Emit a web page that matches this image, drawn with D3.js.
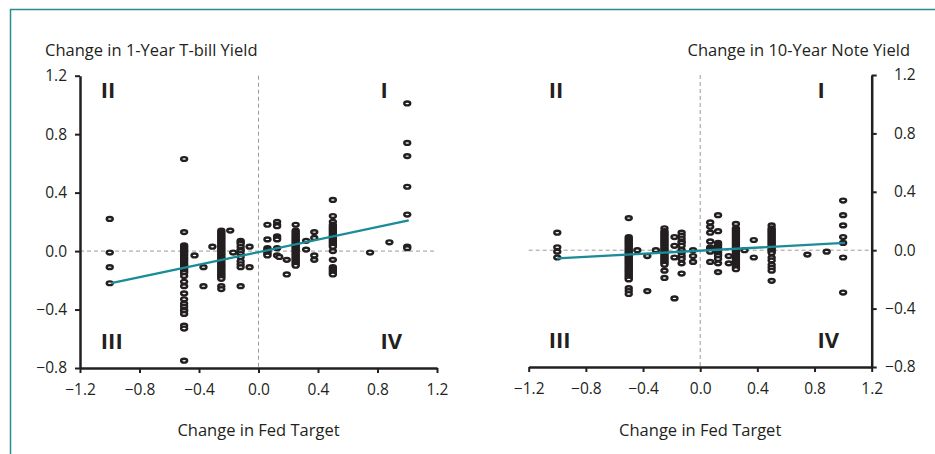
<!DOCTYPE html>
<html>
<head>
<meta charset="utf-8">
<script src="https://cdn.jsdelivr.net/npm/d3@7"></script>
<style>
  body { margin: 0; background: #fff; }
  text { font-family: "Open Sans", "Noto Sans", sans-serif; fill: #231f20; }
</style>
</head>
<body>
<div id="chart"></div>
<script>
// Fed target change -> yield changes, grouped by Fed move: [fedChange, [yieldChanges...]]
var tbillColumns = [
  [-1.0,  [0.22, -0.01, -0.11, -0.22]],
  [-0.5,  [0.63, 0.13, 0.04, 0.03, 0.02, 0.01, 0.0, -0.01, -0.02, -0.03, -0.04, -0.05, -0.06,
           -0.07, -0.08, -0.09, -0.10, -0.11, -0.12, -0.13, -0.14, -0.15, -0.17, -0.21, -0.24,
           -0.29, -0.33, -0.36, -0.38, -0.40, -0.41, -0.43, -0.51, -0.53, -0.75]],
  [-0.43, [-0.03]],
  [-0.37, [-0.11, -0.24]],
  [-0.31, [0.03]],
  [-0.25, [0.14, 0.13, 0.12, 0.11, 0.10, 0.09, 0.08, 0.07, 0.06, 0.05, 0.04, 0.03, 0.02, 0.01,
           0.0, -0.01, -0.02, -0.03, -0.04, -0.05, -0.06, -0.07, -0.08, -0.09, -0.10, -0.11,
           -0.12, -0.13, -0.14, -0.15, -0.16, -0.17, -0.18, -0.19, -0.24, -0.26]],
  [-0.19, [0.14]],
  [-0.17, [-0.01]],
  [-0.12, [0.07, 0.06, 0.05, 0.03, 0.01, 0.0, -0.02, -0.04, -0.07, -0.09, -0.11, -0.24]],
  [-0.06, [0.03, -0.11]],
  [0.06,  [0.18, 0.08, 0.02, 0.01, 0.0, -0.01, -0.02, -0.03]],
  [0.125, [0.20, 0.18, 0.17, 0.10, 0.09, 0.08, 0.02, -0.03]],
  [0.14,  [-0.04]],
  [0.19,  [-0.06, -0.16]],
  [0.25,  [0.18, 0.14, 0.13, 0.12, 0.11, 0.10, 0.09, 0.08, 0.07, 0.06, 0.05, 0.04, 0.03, 0.02,
           0.01, 0.0, -0.01, -0.02, -0.03, -0.04, -0.05, -0.06, -0.07, -0.08, -0.09, -0.10]],
  [0.32,  [0.07, 0.01]],
  [0.375, [0.13, 0.09, -0.03, -0.06]],
  [0.5,   [0.35, 0.24, 0.20, 0.18, 0.17, 0.16, 0.15, 0.14, 0.13, 0.12, 0.11, 0.10, 0.09, 0.08,
           0.07, 0.06, 0.05, 0.04, 0.03, 0.0, -0.06, -0.11, -0.12, -0.13, -0.14, -0.15, -0.16]],
  [0.75,  [-0.01]],
  [0.88,  [0.06]],
  [1.0,   [1.01, 0.74, 0.65, 0.44, 0.25, 0.03, 0.02]]
];

var noteColumns = [
  [-1.0,  [0.12, 0.02, -0.01, -0.05]],
  [-0.5,  [0.22, 0.09, 0.08, 0.07, 0.06, 0.05, 0.04, 0.03, 0.02, 0.01, 0.0, -0.01, -0.02, -0.03,
           -0.04, -0.05, -0.06, -0.07, -0.08, -0.09, -0.10, -0.11, -0.12, -0.13, -0.14, -0.15,
           -0.16, -0.17, -0.18, -0.19, -0.20, -0.26, -0.28, -0.30]],
  [-0.44, [0.0]],
  [-0.37, [-0.04, -0.28]],
  [-0.31, [0.0]],
  [-0.25, [0.15, 0.13, 0.12, 0.11, 0.10, 0.09, 0.08, 0.07, 0.06, 0.05, 0.04, 0.03, 0.02, 0.01,
           0.0, -0.01, -0.02, -0.03, -0.04, -0.05, -0.06, -0.07, -0.08, -0.09, -0.10, -0.14, -0.19]],
  [-0.18, [0.09, 0.03, -0.05, -0.33]],
  [-0.13, [0.12, 0.10, 0.08, 0.06, 0.05, 0.03, 0.0, -0.02, -0.04, -0.06, -0.09, -0.16]],
  [-0.05, [0.0, -0.04, -0.08]],
  [0.07,  [0.19, 0.16, 0.12, 0.06, 0.02, 0.01, 0.0, -0.01, -0.08]],
  [0.125, [0.24, 0.13, 0.05, 0.04, 0.03, 0.02, 0.01, 0.0, -0.01, -0.02, -0.03, -0.04, -0.06,
           -0.09, -0.15]],
  [0.2,   [-0.04, -0.09]],
  [0.25,  [0.18, 0.15, 0.14, 0.13, 0.12, 0.11, 0.10, 0.09, 0.08, 0.07, 0.06, 0.05, 0.04, 0.03,
           0.02, 0.01, 0.0, -0.01, -0.02, -0.03, -0.04, -0.05, -0.06, -0.07, -0.08, -0.09,
           -0.10, -0.11, -0.12, -0.13]],
  [0.31,  [0.0]],
  [0.375, [0.07, -0.05]],
  [0.5,   [0.17, 0.15, 0.14, 0.13, 0.12, 0.11, 0.10, 0.09, 0.08, 0.07, 0.06, 0.05, 0.04, 0.03,
           0.02, 0.01, 0.0, -0.01, -0.02, -0.05, -0.07, -0.10, -0.12, -0.14, -0.21]],
  [0.75,  [-0.03]],
  [0.885, [-0.01]],
  [1.0,   [0.34, 0.24, 0.17, 0.09, 0.05, -0.05, -0.29]]
];

// fitted regression lines (end points)
var tbillFit = [[-0.99, -0.22], [1.01, 0.21]];
var noteFit  = [[-1.0, -0.056], [1.01, 0.05]];

var xTicks = [-1.2, -0.8, -0.4, 0.0, 0.4, 0.8, 1.2];
var yTicks = [-0.8, -0.4, 0.0, 0.4, 0.8, 1.2];
var quadrants = [
  {label: "II",  x: -1.06, y: 1.045},
  {label: "I",   x: 0.82,  y: 1.045},
  {label: "III", x: -1.06, y: -0.667},
  {label: "IV",  x: 0.82,  y: -0.667}
];

var teal = "#1a8c99";
var W = 935, H = 454;

var svg = d3.select("#chart")
  .append("svg")
    .attr("width", W)
    .attr("height", H);

// frame (open at right and bottom)
svg.append("path")
  .attr("d", "M10.5," + H + "V9.5H" + W)
  .attr("fill", "none")
  .attr("stroke", "#2a8b95")
  .attr("stroke-width", 1.5);

function flatten(cols) {
  var pts = [];
  cols.forEach(function (c) {
    c[1].forEach(function (v) { pts.push([c[0], v]); });
  });
  return pts;
}

function drawPanel(o) {
  var x = d3.scaleLinear().domain([-1.2, 1.2]).range([o.x0, o.x1]);
  var y = d3.scaleLinear().domain([-0.8, 1.2]).range([o.y0, o.y1]);
  var g = svg.append("g");
  var fmt = d3.format(".1f");

  // zero reference lines
  g.append("line")
    .attr("x1", x(-1.2)).attr("x2", x(1.2))
    .attr("y1", y(0)).attr("y2", y(0))
    .attr("stroke", "#9a9a9a").attr("stroke-width", 1)
    .attr("stroke-dasharray", "4,3");
  g.append("line")
    .attr("x1", x(0)).attr("x2", x(0))
    .attr("y1", y(1.2)).attr("y2", y(-0.8))
    .attr("stroke", "#9a9a9a").attr("stroke-width", 1)
    .attr("stroke-dasharray", "4,3");

  // quadrant labels
  g.selectAll(".quad")
    .data(quadrants)
    .enter()
    .append("text")
      .attr("x", function (d) { return x(d.x); })
      .attr("y", function (d) { return y(d.y); })
      .style("font-size", "22px")
      .style("font-weight", 700)
      .text(function (d) { return d.label; });

  // points
  g.append("g")
    .selectAll("ellipse")
    .data(flatten(o.cols))
    .enter()
    .append("ellipse")
      .attr("cx", function (d) { return x(d[0]); })
      .attr("cy", function (d) { return y(d[1]); })
      .attr("rx", 3)
      .attr("ry", 1.9)
      .attr("fill", "#fff")
      .attr("stroke", "#231f20")
      .attr("stroke-width", 2.4);

  // fit line
  g.append("path")
    .datum(o.fit)
    .attr("d", d3.line().x(function (d) { return x(d[0]); }).y(function (d) { return y(d[1]); }))
    .attr("fill", "none")
    .attr("stroke", teal)
    .attr("stroke-width", 2.3);

  // x axis
  var xa = g.append("g")
    .attr("transform", "translate(0," + o.y0 + ")")
    .call(d3.axisBottom(x).tickValues(xTicks).tickFormat(fmt).tickSize(5).tickSizeOuter(0));
  xa.select(".domain").attr("stroke", "#231f20").attr("stroke-width", 2.5);
  xa.selectAll(".tick line").attr("stroke", "#231f20").attr("stroke-width", 2);
  xa.selectAll(".tick text")
    .attr("y", 16)
    .style("font-size", "15.5px")
    .style("font-family", "'Open Sans', sans-serif")
    .attr("fill", "#231f20");

  // y axis
  var ya;
  if (o.right) {
    ya = g.append("g")
      .attr("transform", "translate(" + o.x1 + ",0)")
      .call(d3.axisRight(y).tickValues(yTicks).tickFormat(fmt).tickSize(5).tickSizeOuter(0));
    ya.selectAll(".tick text").attr("x", 44).attr("text-anchor", "end");
  } else {
    ya = g.append("g")
      .attr("transform", "translate(" + o.x0 + ",0)")
      .call(d3.axisLeft(y).tickValues(yTicks).tickFormat(fmt).tickSize(5).tickSizeOuter(0));
    ya.selectAll(".tick text").attr("x", -13);
  }
  ya.select(".domain").attr("stroke", "#231f20").attr("stroke-width", 2.5);
  ya.selectAll(".tick line").attr("stroke", "#231f20").attr("stroke-width", 2);
  ya.selectAll(".tick text")
    .style("font-size", "15.5px")
    .style("font-family", "'Open Sans', sans-serif")
    .attr("fill", "#231f20");

  // titles
  g.append("text")
    .attr("x", o.titleX)
    .attr("y", 56)
    .attr("text-anchor", o.right ? "end" : "start")
    .style("font-size", "16.5px")
    .text(o.title);
  g.append("text")
    .attr("x", x(0))
    .attr("y", 436)
    .attr("text-anchor", "middle")
    .style("font-size", "16.5px")
    .text("Change in Fed Target");
}

drawPanel({cols: tbillColumns, fit: tbillFit, x0: 80, x1: 437, y0: 368, y1: 75.7,
  title: "Change in 1-Year T-bill Yield", titleX: 45, right: false});
drawPanel({cols: noteColumns, fit: noteFit, x0: 528.7, x1: 871.7, y0: 367, y1: 75,
  title: "Change in 10-Year Note Yield", titleX: 910, right: true});
</script>
</body>
</html>
